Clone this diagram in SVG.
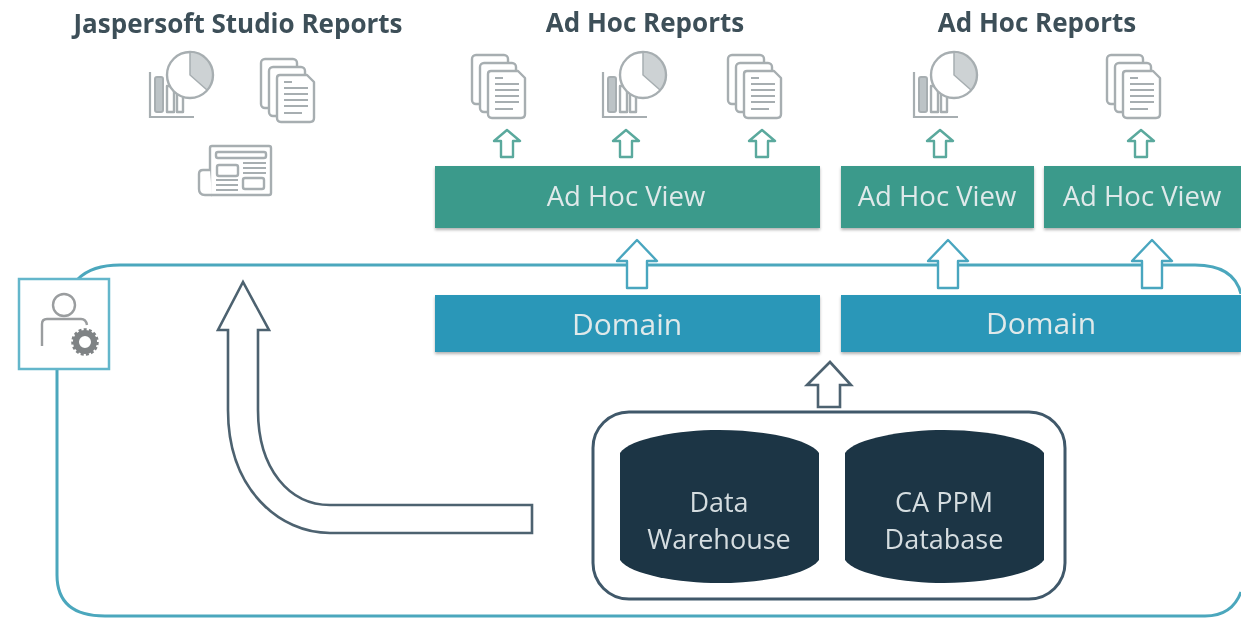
<svg xmlns="http://www.w3.org/2000/svg" width="1241" height="618" viewBox="0 0 1241 618">
<style>
text{font-family:"Open Sans","Noto Sans","Liberation Sans",sans-serif;text-anchor:middle}
.h{font-size:26px;font-weight:700;fill:#3d4f59}
.w{fill:#dfe9ea;font-size:27.5px}
.d{fill:#dfe9ea;font-size:30px}
.db{fill:#d5dde0;font-size:27px}
.ic{fill:#fff;stroke:#a7aeb1;stroke-width:2.4;stroke-linejoin:round}
.ln{fill:none;stroke:#a7aeb1;stroke-width:2.2}
.ga{fill:#fff;stroke:#5aa99d;stroke-width:2.4;stroke-linejoin:round}
.ba{fill:#fff;stroke:#4aa6bf;stroke-width:2.4;stroke-linejoin:round}
.da{fill:#fff;stroke:#4d6270;stroke-width:2.6;stroke-linejoin:miter}
.green{fill:#3a9a8b}
.blue{fill:#2b97b8}
.cyl{fill:#1b3444}
</style>
<defs>
<filter id="s" x="-3%" y="-5%" width="106%" height="115%"><feDropShadow dx="0" dy="2" stdDeviation="1.5" flood-color="#000" flood-opacity=".3"/></filter>
<filter id="soft" x="0" y="0" width="100%" height="100%" filterUnits="userSpaceOnUse"><feGaussianBlur stdDeviation="0.6"/></filter>
<g id="docs">
<rect class="ic" x="0" y="0" width="36" height="49" rx="4"/>
<rect class="ic" x="8" y="8" width="36" height="49" rx="4"/>
<path class="ic" d="M16 19Q16 16 19 16H46L53 23V59Q53 63 49 63H20Q16 63 16 59Z"/>
<path class="ln" d="M23 23H31M23 29H47M23 35H47M23 41H47M23 47H47M23 54H41"/>
</g>
<g id="chart">
<path class="ln" d="M0 0V45H44"/>
<rect x="5" y="5" width="8" height="35" fill="#bcc3c6" stroke="#a7aeb1" stroke-width="2" rx="2"/>
<rect class="ic" x="17" y="14" width="7" height="26"/>
<rect class="ic" x="27" y="22" width="6" height="18"/>
<circle class="ic" cx="40" cy="3" r="23"/>
<path d="M40 -20A23 23 0 0 1 57 18L40 3Z" fill="#cdd2d4" stroke="#a7aeb1" stroke-width="1.5"/>
</g>
</defs>
<g filter="url(#soft)">
<rect width="1241" height="618" fill="#fff"/>
<g id="connectors">
<path id="boundary" d="M78 279Q92 265 120 265H1195Q1234 265 1241 294M1241 592Q1232 616 1205 616H105Q57 616 57 575V369" fill="none" stroke="#4ba7bd" stroke-width="3"/>
<path class="da" d="M532 505H330C290 505 258 470 258 410V330H269L243 282L218 330H228V410C228 490 280 533 330 533H532Z"/>
<path class="da" d="M818 407V385H807L830 362L851 385H840V407Z" stroke-width="2"/>
<path class="ga" d="M501 157V141H494L507 130L520 141H513V157Z"/>
<path class="ga" d="M620 157V141H613L626 130L639 141H632V157Z"/>
<path class="ga" d="M756 157V141H749L762 130L775 141H768V157Z"/>
<path class="ga" d="M934 157V141H927L940 130L953 141H946V157Z"/>
<path class="ga" d="M1135 157V141H1128L1141 130L1154 141H1147V157Z"/>
<path class="ba" d="M627 288V261H617L637 240L657 261H647V288Z"/>
<path class="ba" d="M938 288V261H928L948 240L968 261H958V288Z"/>
<path class="ba" d="M1142 288V261H1132L1152 240L1172 261H1162V288Z"/>
</g>
<g id="jaspersoft-title"><text class="h" x="238" y="33">Jaspersoft Studio Reports</text></g>
<g id="adhoc-title-1"><text class="h" x="645" y="32">Ad Hoc Reports</text></g>
<g id="adhoc-title-2"><text class="h" x="1037" y="32">Ad Hoc Reports</text></g>
<g id="icon-chart-1"><use href="#chart" x="150" y="72"/></g>
<g id="icon-docs-1"><use href="#docs" x="261" y="59"/></g>
<g id="icon-news">
<rect class="ic" x="210" y="146" width="61" height="49" rx="2"/>
<path class="ic" d="M210 170H203Q199 170 199 174V189Q199 195 205 195H212"/>
<rect class="ic" x="216" y="152" width="50" height="6" rx="2"/>
<rect class="ic" x="217" y="165" width="21" height="11" rx="2"/>
<rect class="ic" x="243" y="178" width="21" height="11" rx="2"/>
<path class="ln" d="M243 163H266M243 168H266M243 173H266M216 180H238M216 185H238M216 190H238"/>
</g>
<g id="icon-docs-2"><use href="#docs" x="472" y="55"/></g>
<g id="icon-chart-2"><use href="#chart" x="603" y="72"/></g>
<g id="icon-docs-3"><use href="#docs" x="728" y="55"/></g>
<g id="icon-chart-3"><use href="#chart" x="914" y="72"/></g>
<g id="icon-docs-4"><use href="#docs" x="1107" y="55"/></g>
<g id="adhoc-view-1"><rect class="green" filter="url(#s)" x="435" y="166" width="385" height="62"/><text class="w" x="626" y="206">Ad Hoc View</text></g>
<g id="adhoc-view-2"><rect class="green" filter="url(#s)" x="841" y="166" width="193" height="62"/><text class="w" x="937" y="206">Ad Hoc View</text></g>
<g id="adhoc-view-3"><rect class="green" filter="url(#s)" x="1044" y="166" width="197" height="62"/><text class="w" x="1142" y="206">Ad Hoc View</text></g>
<g id="domain-1"><rect class="blue" filter="url(#s)" x="435" y="295" width="385" height="57"/><text class="d" x="627" y="335">Domain</text></g>
<g id="domain-2"><rect class="blue" filter="url(#s)" x="841" y="295" width="400" height="57"/><text class="d" x="1041" y="334">Domain</text></g>
<g id="data-group"><rect x="593" y="412" width="472" height="187" rx="36" fill="#fff" stroke="#40596a" stroke-width="3"/></g>
<g id="data-warehouse"><path class="cyl" d="M620 453C630 438 680 430 719 430C760 430 808 438 819 453V560C808 575 760 583 719 583C680 583 630 575 620 560Z"/><text class="db" x="719" y="512">Data</text><text class="db" x="719" y="549">Warehouse</text></g>
<g id="ca-ppm-database"><path class="cyl" d="M845 453C855 438 905 430 944 430C985 430 1033 438 1044 453V560C1033 575 985 583 944 583C905 583 855 575 845 560Z"/><text class="db" x="944" y="512">CA PPM</text><text class="db" x="944" y="549">Database</text></g>
<g id="admin-icon">
<rect x="19" y="279" width="90" height="90" fill="#fff" stroke="#63b6cb" stroke-width="2.5"/>
<circle cx="64" cy="305" r="11" fill="none" stroke="#9a9d9f" stroke-width="2.4"/>
<path d="M42 346V324Q42 319 47 319H81Q86 319 87 325" fill="none" stroke="#9a9d9f" stroke-width="2.4"/>
<circle cx="85" cy="342" r="9" fill="none" stroke="#7f8385" stroke-width="6"/>
<circle cx="85" cy="342" r="12.5" fill="none" stroke="#7f8385" stroke-width="2.5" stroke-dasharray="3 2.2"/>
</g>
</g>
</svg>
